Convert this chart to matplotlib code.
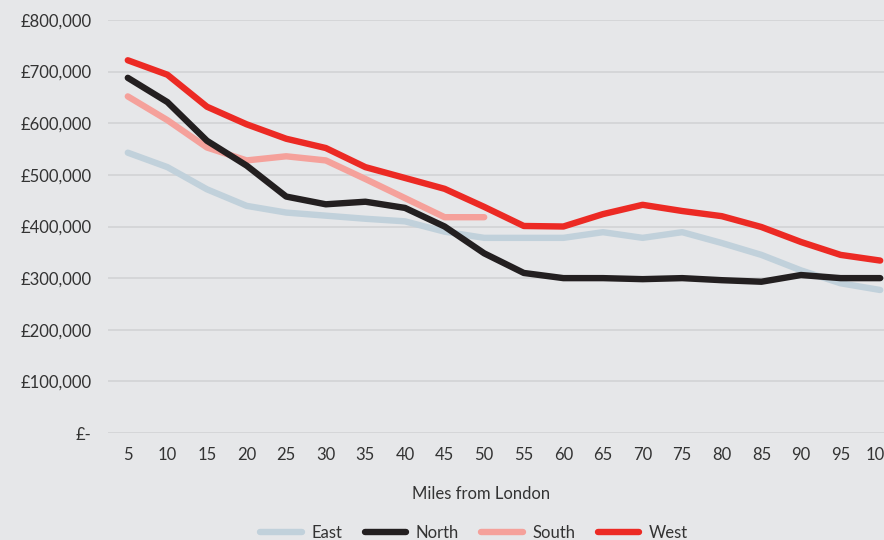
import matplotlib.pyplot as plt
from matplotlib.ticker import FuncFormatter

miles = ['5', '10', '15', '20', '25', '30', '35', '40', '45', '50',
         '55', '60', '65', '70', '75', '80', '85', '90', '95', '100']

east = [543000, 515000, 472000, 440000, 427000, 421000, 415000, 410000, 390000, 378000,
        378000, 378000, 389000, 378000, 389000, 368000, 345000, 315000, 290000, 277000]
north = [688000, 641000, 566000, 518000, 458000, 443000, 448000, 436000, 400000, 348000,
         310000, 300000, 300000, 298000, 300000, 296000, 293000, 306000, 300000, 300000]
south = [652000, 606000, 553000, 528000, 536000, 528000, 492000, 455000, 418000, 418000]
west = [722000, 694000, 632000, 598000, 570000, 552000, 515000, 494000, 473000, 438000,
        401000, 400000, 424000, 442000, 430000, 420000, 399000, 370000, 345000, 334000]

bg = '#e6e7e9'
txt = '#333333'
plt.rcParams['font.family'] = ['Lato', 'DejaVu Sans']

fig = plt.figure(figsize=(8.84, 5.4), dpi=100, facecolor=bg)
ax = fig.add_axes([108 / 884, 107 / 540, 792 / 884, 413 / 540], facecolor=bg)

xs = list(range(len(miles)))
lw = 4.6
ax.plot(xs, east, color='#c1d1db', lw=lw, solid_capstyle='round', solid_joinstyle='round', label='East', zorder=3)
ax.plot(xs, north, color='#231f20', lw=lw, solid_capstyle='round', solid_joinstyle='round', label='North', zorder=4)
ax.plot(xs[:len(south)], south, color='#f5a19b', lw=lw, solid_capstyle='round', solid_joinstyle='round', label='South', zorder=3)
ax.plot(xs, west, color='#ec2a24', lw=lw, solid_capstyle='round', solid_joinstyle='round', label='West', zorder=5)

ax.set_xlim(-0.5, len(miles) - 0.5)
ax.set_ylim(0, 800000)
ax.set_xticks(xs)
ax.set_xticklabels(miles)
ax.set_yticks(range(0, 800001, 100000))


def money(v, pos):
    if v == 0:
        return '£-'
    return '£{:,.0f}'.format(v)


ax.yaxis.set_major_formatter(FuncFormatter(money))
ax.tick_params(axis='both', length=0, labelsize=12, colors=txt)
ax.tick_params(axis='x', pad=10)
ax.tick_params(axis='y', pad=12)
ax.grid(axis='y', color='#d2d3d5', lw=1.2)
ax.set_axisbelow(True)
for s in ax.spines.values():
    s.set_visible(False)

fig.text(481 / 884, 1 - 494 / 540, 'Miles from London', ha='center', va='center', fontsize=12, color=txt)
fig.legend(loc='center', bbox_to_anchor=(474 / 884, 1 - 533 / 540), ncol=4, frameon=False,
           fontsize=12, labelcolor=txt, handlelength=2.5, columnspacing=1.35, handletextpad=0.55)

fig.savefig('out.png', dpi=100, facecolor=bg)
